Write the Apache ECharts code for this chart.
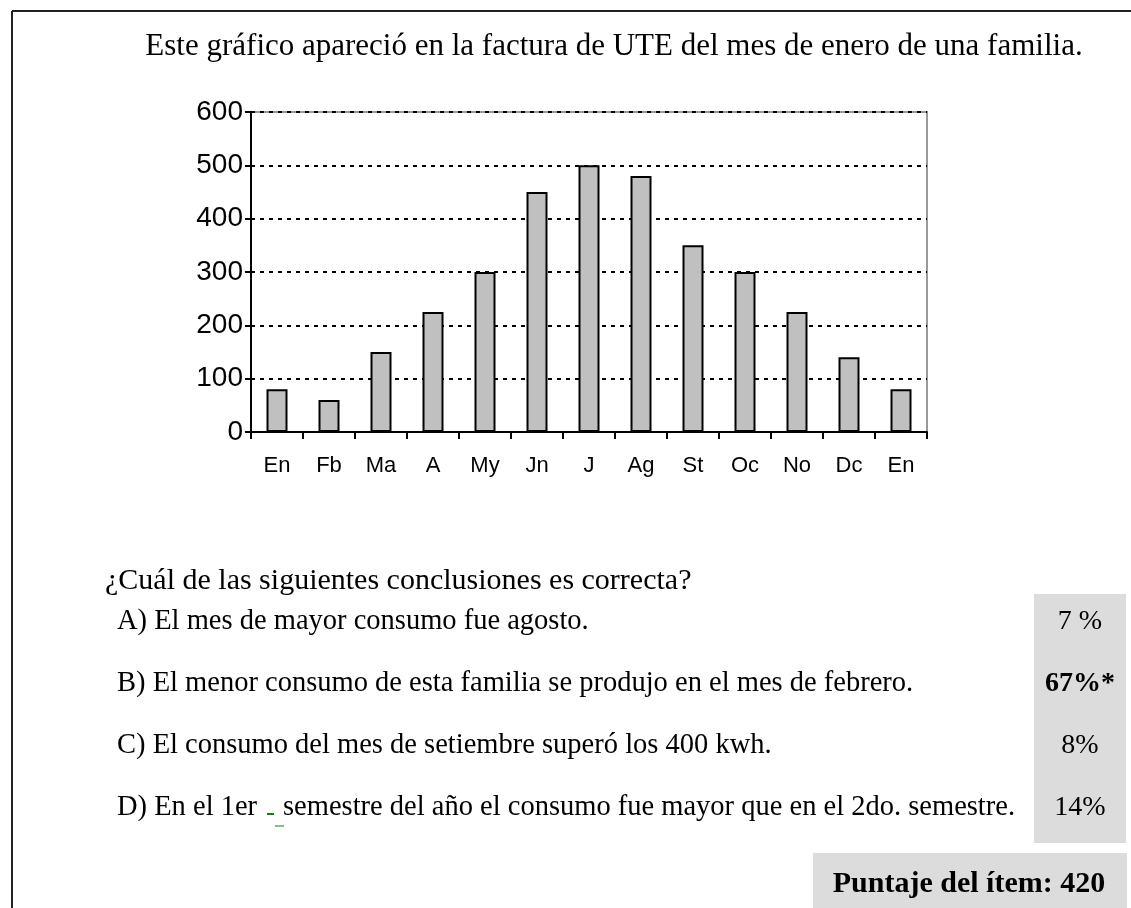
<!DOCTYPE html>
<html>
<head>
  <meta charset="UTF-8">
  <title>Consumo UTE</title>
  <script src="https://cdn.jsdelivr.net/npm/echarts@6/dist/echarts.min.js"></script>
  <style>
    html, body { margin: 0; padding: 0; background: #fff; }
    #main { width: 1131px; height: 908px; }
  </style>
</head>
<body>
<div id="main"></div>
<script>
  // datos
  var meses = ['En', 'Fb', 'Ma', 'A', 'My', 'Jn', 'J', 'Ag', 'St', 'Oc', 'No', 'Dc', 'En'];
  var consumo = [80, 60, 150, 225, 300, 450, 500, 480, 350, 300, 225, 140, 80];
  var ticksY = [0, 100, 200, 300, 400, 500, 600];

  var titulo = 'Este gráfico apareció en la factura de UTE del mes de enero de una familia.';
  var pregunta = '¿Cuál de las siguientes conclusiones es correcta?';
  var opciones = [
    'A) El mes de mayor consumo fue agosto.',
    'B) El menor consumo de esta familia se produjo en el mes de febrero.',
    'C) El consumo del mes de setiembre superó los 400 kwh.'
  ];
  // la D va en dos trozos, con la marca verde en medio
  var opcionD = ['D) En el 1er', 'semestre del año el consumo fue mayor que en el 2do. semestre.'];
  var porcentajes = ['7 %', '67%*', '8%', '14%'];
  var puntaje = 'Puntaje del ítem: 420';

  var serif = '"Liberation Serif", "Times New Roman", serif';
  var sans = '"Liberation Sans", Arial, sans-serif';
  var fTexto = '28.5px ' + serif;

  var graficos = [
    // marco
    { type: 'line', shape: { x1: 12, y1: 11, x2: 1131, y2: 11 }, style: { stroke: '#222', lineWidth: 2 } },
    { type: 'line', shape: { x1: 12, y1: 11, x2: 12, y2: 908 }, style: { stroke: '#222', lineWidth: 2 } },
    { type: 'text', style: { text: titulo, x: 614, y: 47, font: '31px ' + serif, fill: '#000', textAlign: 'center', textVerticalAlign: 'middle' } },
    { type: 'text', style: { text: pregunta, x: 105, y: 581, font: '30px ' + serif, fill: '#000', textVerticalAlign: 'middle' } },
    { type: 'text', style: { text: opcionD[0], x: 117, y: 808, font: fTexto, fill: '#000', textVerticalAlign: 'middle' } },
    { type: 'text', style: { text: opcionD[1], x: 283, y: 808, font: fTexto, fill: '#000', textVerticalAlign: 'middle' } },
    { type: 'rect', z: 5, shape: { x: 1034, y: 594, width: 92, height: 249 }, style: { fill: '#dcdcdc' } },
    { type: 'rect', shape: { x: 813, y: 853, width: 314, height: 60 }, style: { fill: '#dcdcdc' } },
    { type: 'text', style: { text: puntaje, x: 969, y: 884, font: 'bold 30px ' + serif, fill: '#000', textAlign: 'center', textVerticalAlign: 'middle' } },
    // marcas verdes junto a "1er"
    { type: 'line', shape: { x1: 267, y1: 814, x2: 274, y2: 814 }, style: { stroke: '#1a7a1a', lineWidth: 2 } },
    { type: 'line', shape: { x1: 275, y1: 826, x2: 284, y2: 826 }, style: { stroke: '#1a7a1a', lineWidth: 1 } }
  ];
  opciones.forEach(function (t, i) {
    graficos.push({ type: 'text', style: { text: t, x: 117, y: 622 + i * 62, font: fTexto, fill: '#000', textVerticalAlign: 'middle' } });
  });
  porcentajes.forEach(function (p, i) {
    graficos.push({ type: 'text', z: 10, style: { text: p, x: 1080, y: 622 + i * 62, font: (i === 1 ? 'bold ' : '') + '28px ' + serif, fill: '#000', textAlign: 'center', textVerticalAlign: 'middle' } });
  });

  var option = {
    backgroundColor: '#fff',
    animation: false,
    grid: {
      left: 251, top: 112, width: 676, height: 320,
      show: true, borderColor: '#999', borderWidth: 2, backgroundColor: 'transparent'
    },
    xAxis: {
      type: 'category',
      data: meses,
      boundaryGap: true,
      axisLine: { lineStyle: { color: '#000', width: 2 } },
      axisTick: { show: true, length: 7, lineStyle: { color: '#000', width: 2 } },
      axisLabel: { color: '#000', fontSize: 22, fontFamily: sans, margin: 23, interval: 0 },
      splitLine: { show: false }
    },
    yAxis: {
      type: 'value',
      min: ticksY[0],
      max: ticksY[ticksY.length - 1],
      interval: 100,
      axisLine: { show: true, lineStyle: { color: '#000', width: 2 } },
      axisTick: { show: true, length: 6, lineStyle: { color: '#000', width: 2 } },
      axisLabel: { color: '#000', fontSize: 28, fontFamily: sans, margin: 8 },
      splitLine: { show: true, lineStyle: { color: '#000', width: 2, type: [4, 5] } }
    },
    series: [{
      type: 'bar',
      data: consumo,
      barWidth: 21,
      itemStyle: { color: '#c0c0c0', borderColor: '#000', borderWidth: 2 }
    }],
    graphic: graficos
  };

  echarts.init(document.getElementById('main')).setOption(option);
</script>
</body>
</html>
